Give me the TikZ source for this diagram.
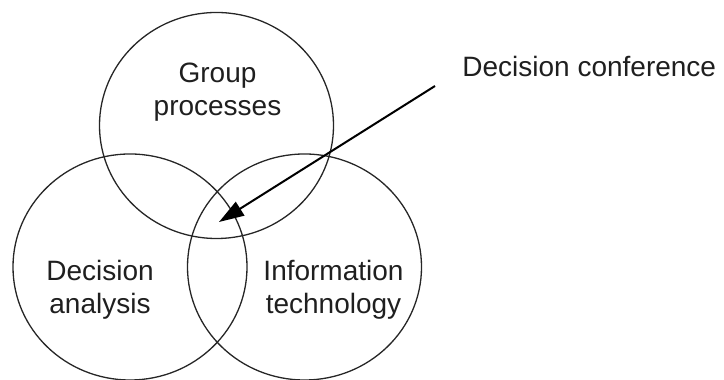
\documentclass[tikz,border=0pt]{standalone}
\usepackage{fontspec}
\setmainfont{Liberation Sans}
\usetikzlibrary{shapes.geometric,arrows.meta}
\begin{document}
\begin{tikzpicture}[x=0.5bp,y=-0.5bp,
  setcircle/.style={draw=black!85, line width=0.65bp, ellipse, inner sep=0pt,
    minimum width=117bp, minimum height=113bp},
  label/.style={align=center, anchor=base, inner sep=0pt, text=black!88,
    font=\fontsize{14bp}{16.5bp}\selectfont},
  pointer/.style={draw=black, line width=1bp,
    -{Triangle[length=12.5bp,width=8bp]}}]
\useasboundingbox (0,0) rectangle (724,380);
\clip (0,0) rectangle (724,380);
\node[setcircle] (gp) at (216.5,125.5) {};
\node[setcircle] (da) at (130,267) {};
\node[setcircle] (it) at (304.5,267) {};
\node[label] (gpt) at (217.5,116) {Group\\processes};
\node[label] (dat) at (100,314) {Decision\\analysis};
\node[label] (itt) at (333.5,314) {Information\\technology};
\node[label, anchor=base west] (dc) at (462,77) {Decision conference};
\coordinate (start) at (435,86);
\coordinate (tip) at (219,222);
\draw[pointer] (start) -- (tip);
\end{tikzpicture}
\end{document}
